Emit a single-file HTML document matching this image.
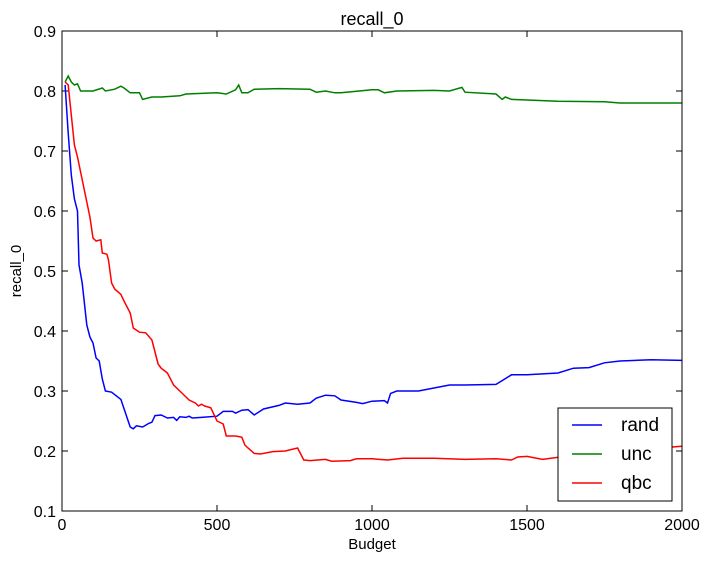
<!DOCTYPE html>
<html><head><meta charset="utf-8"><style>
body{margin:0;background:#fff;}
svg{display:block;font-family:"Liberation Sans","DejaVu Sans",sans-serif;}
</style></head><body>
<svg id="chart" width="713" height="561">
<rect x="0" y="0" width="713" height="561" fill="#fff"/>
<text x="372" y="25" text-anchor="middle" font-size="18">recall_0</text>
<text x="372" y="549" text-anchor="middle" font-size="15">Budget</text>
<text x="21" y="271" text-anchor="middle" font-size="15" transform="rotate(-90 21 271)">recall_0</text>
<g id="ticks"></g>
<g id="series"></g>
<rect x="62" y="31" width="620" height="480" fill="none" stroke="#000" stroke-width="1"/>
<g>
<rect x="558" y="408" width="114" height="93" fill="#fff" stroke="#000" stroke-width="1"/>
<g><line x1="572" y1="425" x2="602" y2="425" stroke="#0000ff" stroke-width="1.5"/><text x="621" y="431" font-size="19">rand</text></g>
<g><line x1="572" y1="454" x2="602" y2="454" stroke="#008000" stroke-width="1.5"/><text x="621" y="460" font-size="19">unc</text></g>
<g><line x1="572" y1="483" x2="602" y2="483" stroke="#ff0000" stroke-width="1.5"/><text x="621" y="489" font-size="19">qbc</text></g>
</g>
</svg>
<script>
const xTicks=[0,500,1000,1500,2000];
const yTicks=[0.1,0.2,0.3,0.4,0.5,0.6,0.7,0.8,0.9];
const randX=[10,20,30,40,50,55,65,80,90,100,110,120,130,140,160,190,220,230,240,260,280,290,300,320,340,360,370,380,400,410,420,450,500,520,550,560,580,600,620,650,700,720,760,800,820,850,880,900,950,970,1000,1040,1050,1060,1080,1150,1200,1250,1300,1400,1450,1500,1600,1650,1700,1750,1800,1900,2000];
const randY=[0.81,0.73,0.66,0.62,0.60,0.51,0.48,0.41,0.39,0.38,0.355,0.35,0.32,0.30,0.298,0.286,0.24,0.237,0.242,0.240,0.246,0.248,0.259,0.26,0.255,0.256,0.251,0.257,0.256,0.258,0.255,0.256,0.258,0.266,0.266,0.263,0.268,0.269,0.26,0.27,0.276,0.28,0.278,0.28,0.288,0.293,0.292,0.285,0.281,0.279,0.283,0.284,0.28,0.296,0.30,0.30,0.305,0.31,0.31,0.311,0.327,0.327,0.33,0.338,0.339,0.347,0.35,0.352,0.351];
const uncX=[10,20,30,40,50,60,100,130,140,170,190,200,220,250,260,290,320,380,400,500,530,560,570,580,600,620,700,800,820,850,880,900,1000,1020,1040,1080,1200,1250,1290,1300,1400,1420,1430,1450,1600,1750,1800,2000];
const uncY=[0.815,0.825,0.815,0.81,0.812,0.80,0.80,0.805,0.80,0.803,0.808,0.805,0.797,0.797,0.786,0.79,0.79,0.792,0.795,0.797,0.795,0.802,0.81,0.797,0.797,0.803,0.804,0.803,0.798,0.8,0.797,0.797,0.802,0.802,0.797,0.80,0.801,0.800,0.806,0.798,0.795,0.786,0.79,0.786,0.783,0.782,0.780,0.780];
const qbcX=[10,20,30,40,50,70,90,100,110,125,130,145,150,160,170,190,200,220,230,250,270,290,310,320,340,360,380,400,410,430,440,450,460,480,500,520,530,560,580,590,600,620,640,680,720,760,780,800,850,870,930,950,1000,1050,1100,1200,1300,1400,1450,1470,1500,1550,1650,1800,2000];
const qbcY=[0.815,0.81,0.76,0.71,0.69,0.64,0.59,0.555,0.55,0.552,0.53,0.528,0.518,0.48,0.47,0.461,0.45,0.43,0.405,0.398,0.397,0.385,0.345,0.338,0.33,0.31,0.30,0.29,0.285,0.28,0.275,0.278,0.275,0.272,0.25,0.245,0.225,0.225,0.223,0.21,0.205,0.196,0.195,0.199,0.2,0.205,0.185,0.184,0.186,0.183,0.184,0.187,0.187,0.185,0.188,0.188,0.186,0.187,0.185,0.19,0.191,0.186,0.193,0.2,0.208];
const NS="http://www.w3.org/2000/svg";
function sx(v){return 62+v/2000*620;}
function sy(v){return 511-(v-0.1)/0.8*480;}
const tg=document.getElementById('ticks');
xTicks.forEach(t=>{
  const x=sx(t);
  const l1=document.createElementNS(NS,'line');
  l1.setAttribute('x1',x);l1.setAttribute('x2',x);l1.setAttribute('y1',511);l1.setAttribute('y2',505);l1.setAttribute('stroke','#000');
  
  
  tg.appendChild(l1);
  const l2=document.createElementNS(NS,'line');
  l2.setAttribute('x1',x);l2.setAttribute('x2',x);l2.setAttribute('y1',31);l2.setAttribute('y2',37);l2.setAttribute('stroke','#000');
  
  
  tg.appendChild(l2);
  const tx=document.createElementNS(NS,'text');
  tx.setAttribute('x',x);tx.setAttribute('y',530);tx.setAttribute('text-anchor','middle');tx.setAttribute('font-size','16');
  tx.textContent=t;
  
  
  tg.appendChild(tx);
});
yTicks.forEach(t=>{
  const y=sy(t);
  const l1=document.createElementNS(NS,'line');
  l1.setAttribute('x1',62);l1.setAttribute('x2',68);l1.setAttribute('y1',y);l1.setAttribute('y2',y);l1.setAttribute('stroke','#000');
  
  
  tg.appendChild(l1);
  const l2=document.createElementNS(NS,'line');
  l2.setAttribute('x1',676);l2.setAttribute('x2',682);l2.setAttribute('y1',y);l2.setAttribute('y2',y);l2.setAttribute('stroke','#000');
  
  
  tg.appendChild(l2);
  const tx=document.createElementNS(NS,'text');
  tx.setAttribute('x',56);tx.setAttribute('y',y+6);tx.setAttribute('text-anchor','end');tx.setAttribute('font-size','16');
  tx.textContent=t.toFixed(1);
  
  
  tg.appendChild(tx);
});
const sg=document.getElementById('series');
function draw(xs,ys,color,name){
  const p=document.createElementNS(NS,'polyline');
  p.setAttribute('points',xs.map((x,i)=>sx(x).toFixed(1)+','+sy(ys[i]).toFixed(1)).join(' '));
  p.setAttribute('fill','none');p.setAttribute('stroke',color);p.setAttribute('stroke-width','1.5');
  
  
  sg.appendChild(p);
}
draw(randX,randY,'#0000ff','rand-line');
draw(uncX,uncY,'#008000','unc-line');
draw(qbcX,qbcY,'#ff0000','qbc-line');
</script>
</body></html>
